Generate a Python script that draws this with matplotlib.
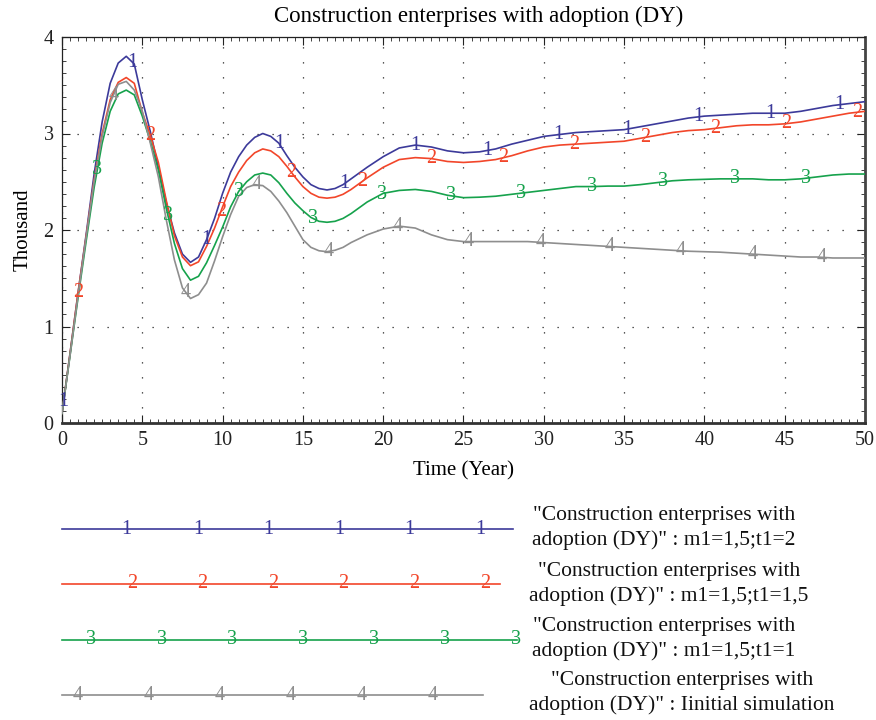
import numpy as np
import matplotlib
matplotlib.use("Agg")
import matplotlib.pyplot as plt
from matplotlib.ticker import MultipleLocator

plt.rcParams['font.family'] = ['Liberation Serif', 'DejaVu Serif']

# ---------------- data ----------------
time = [0, 0.5, 1, 1.5, 2, 2.5, 3, 3.5, 4, 4.5, 5, 5.5, 6, 6.5, 7, 7.5, 8, 8.5, 9, 9.5,
        10, 10.5, 11, 11.5, 12, 12.5, 13, 13.5, 14, 14.5, 15, 15.5, 16, 16.5, 17, 17.5,
        18, 19, 20, 21, 22, 23, 24, 25, 26, 27, 28, 29, 30, 31, 32, 33, 34, 35, 36, 37,
        38, 39, 40, 41, 42, 43, 44, 45, 46, 47, 48, 49, 50]

s1 = [0.10, 0.72, 1.35, 1.95, 2.58, 3.12, 3.52, 3.73, 3.80, 3.72, 3.35, 3.02, 2.65, 2.28,
      1.97, 1.75, 1.665, 1.72, 1.90, 2.12, 2.38, 2.60, 2.76, 2.88, 2.96, 3.00, 2.97, 2.90,
      2.77, 2.65, 2.55, 2.47, 2.43, 2.415, 2.43, 2.47, 2.53, 2.65, 2.76, 2.85, 2.88, 2.86,
      2.82, 2.80, 2.81, 2.84, 2.89, 2.93, 2.97, 2.99, 3.01, 3.02, 3.03, 3.04, 3.07, 3.10,
      3.13, 3.16, 3.18, 3.19, 3.20, 3.21, 3.21, 3.21, 3.23, 3.26, 3.29, 3.31, 3.33]

s2 = [0.10, 0.72, 1.35, 1.93, 2.52, 3.00, 3.35, 3.53, 3.58, 3.52, 3.22, 2.98, 2.70, 2.30,
      1.94, 1.72, 1.63, 1.67, 1.83, 2.02, 2.24, 2.45, 2.60, 2.72, 2.80, 2.84, 2.82, 2.76,
      2.66, 2.55, 2.45, 2.38, 2.34, 2.33, 2.34, 2.37, 2.42, 2.54, 2.65, 2.73, 2.75, 2.74,
      2.71, 2.70, 2.71, 2.73, 2.77, 2.82, 2.86, 2.88, 2.89, 2.90, 2.91, 2.92, 2.95, 2.98,
      3.01, 3.03, 3.04, 3.06, 3.08, 3.09, 3.09, 3.10, 3.12, 3.15, 3.18, 3.21, 3.23]

s3 = [0.10, 0.70, 1.30, 1.88, 2.44, 2.90, 3.23, 3.41, 3.45, 3.40, 3.18, 2.92, 2.62, 2.22,
      1.86, 1.60, 1.48, 1.52, 1.66, 1.84, 2.03, 2.24, 2.40, 2.50, 2.57, 2.59, 2.57, 2.49,
      2.38, 2.28, 2.20, 2.13, 2.09, 2.08, 2.09, 2.12, 2.17, 2.29, 2.38, 2.41, 2.42, 2.40,
      2.36, 2.335, 2.34, 2.35, 2.37, 2.39, 2.41, 2.43, 2.45, 2.45, 2.455, 2.455, 2.47, 2.49,
      2.51, 2.52, 2.525, 2.53, 2.53, 2.53, 2.52, 2.52, 2.53, 2.55, 2.57, 2.58, 2.58]

s4 = [0.10, 0.70, 1.32, 1.92, 2.50, 2.97, 3.32, 3.51, 3.54, 3.45, 3.23, 2.90, 2.55, 2.10,
      1.69, 1.40, 1.29, 1.33, 1.45, 1.68, 1.93, 2.16, 2.35, 2.44, 2.47, 2.46, 2.40, 2.30,
      2.18, 2.04, 1.90, 1.82, 1.785, 1.775, 1.79, 1.82, 1.87, 1.95, 2.01, 2.04, 2.02, 1.95,
      1.90, 1.88, 1.88, 1.88, 1.88, 1.88, 1.87, 1.86, 1.85, 1.84, 1.83, 1.82, 1.81, 1.80,
      1.79, 1.78, 1.775, 1.77, 1.76, 1.75, 1.74, 1.73, 1.72, 1.72, 1.71, 1.71, 1.71]

# times where the series number labels sit on each curve
lab_t1 = [0.1, 4.4, 9.0, 13.5, 17.6, 22.0, 26.5, 30.9, 35.2, 39.6, 44.1, 48.4]
lab_t2 = [1.0, 5.5, 9.9, 14.3, 18.7, 23.0, 27.5, 31.9, 36.3, 40.7, 45.1, 49.5]
lab_t3 = [2.2, 6.6, 11.0, 15.6, 19.9, 24.2, 28.6, 33.0, 37.4, 41.9, 46.3]
lab_t4 = [3.2, 7.7, 12.1, 16.6, 20.9, 25.3, 29.8, 34.1, 38.5, 43.0, 47.3]

series = [s1, s2, s3, s4]
numbers = ["1", "2", "3", "4"]
label_times = [lab_t1, lab_t2, lab_t3, lab_t4]
legend_texts = [
    '"Construction enterprises with\nadoption (DY)" : m1=1,5;t1=2',
    '"Construction enterprises with\nadoption (DY)" : m1=1,5;t1=1,5',
    '"Construction enterprises with\nadoption (DY)" : m1=1,5;t1=1',
    '"Construction enterprises with\nadoption (DY)" : Iinitial simulation',
]
colors = ['#3c3a9a', '#f2462a', '#16a24c', '#8e8e8e']

title = "Construction enterprises with adoption (DY)"
xlabel = "Time (Year)"
ylabel = "Thousand"

# ---------------- figure ----------------
W, H = 876, 720
fig = plt.figure(figsize=(W / 100, H / 100), dpi=100)
ax = fig.add_axes([62 / W, 1 - 423 / H, (865 - 62) / W, (423 - 37) / H])

for s, c, num, lt in zip(series, colors, numbers, label_times):
    ax.plot(time, s, color=c, lw=1.2, zorder=3)
    ys = np.interp(lt, time, s)
    for tx, ty in zip(lt, ys):
        ax.text(tx, ty, num, color=c, fontsize=14.5, ha='center', va='center', zorder=4)

ax.set_xlim(0, 50)
ax.set_ylim(0, 4)
ax.xaxis.set_major_locator(MultipleLocator(5))
ax.xaxis.set_minor_locator(MultipleLocator(0.5))
ax.yaxis.set_major_locator(MultipleLocator(1))
ax.yaxis.set_minor_locator(MultipleLocator(0.125))
ax.tick_params(which='both', direction='in', top=True, right=True, labelsize=14.5, pad=6,
               colors='#222222')
ax.tick_params(which='major', length=6, width=0.8)
ax.tick_params(which='minor', length=3, width=0.6)
ax.grid(True, which='major', color='#222222', lw=0.9, linestyle=(0, (1, 11)))

for side in ['left', 'top']:
    ax.spines[side].set_linewidth(0.9)
    ax.spines[side].set_color('#222222')
ax.spines['bottom'].set_linewidth(2.0)
ax.spines['bottom'].set_color('#333333')
ax.spines['right'].set_linewidth(2.0)
ax.spines['right'].set_color('#444444')

ax.set_xlabel(xlabel, fontsize=15, labelpad=8)
ax.set_ylabel(ylabel, fontsize=15, labelpad=8)

fig.text(479 / W, 1 - 16 / H, title, fontsize=16.5, ha='center', va='center')

# ---------------- legend (drawn in pixel coordinates) ----------------
lax = fig.add_axes([0, 0, 1, 240 / H])
lax.set_xlim(0, W)
lax.set_ylim(720, 480)
lax.axis('off')

leg_y = [529, 584, 640, 695]
leg_x_end = [513, 500, 517, 483]
leg_marks = [
    [126, 198, 268, 339, 409, 480],
    [132, 202, 273, 343, 414, 485],
    [91, 162, 232, 303, 374, 445, 516],
    [78, 149, 220, 291, 362, 433],
]
txt_x = [664, 669, 664, 682]
txt_y = [528, 584, 639, 693]

for c, num, y, xe, marks, t, tx, ty in zip(colors, numbers, leg_y, leg_x_end, leg_marks,
                                         legend_texts, txt_x, txt_y):
    lax.plot([62, xe], [y, y], color=c, lw=1.2)
    for mx in marks:
        lax.text(mx, y, num, color=c, fontsize=14.5, ha='center', va='center')
    lax.text(tx, ty, t, fontsize=15.5, ha='center', va='center', multialignment='center',
             linespacing=1.38, color='#111111')

fig.savefig("out.png", dpi=100)
